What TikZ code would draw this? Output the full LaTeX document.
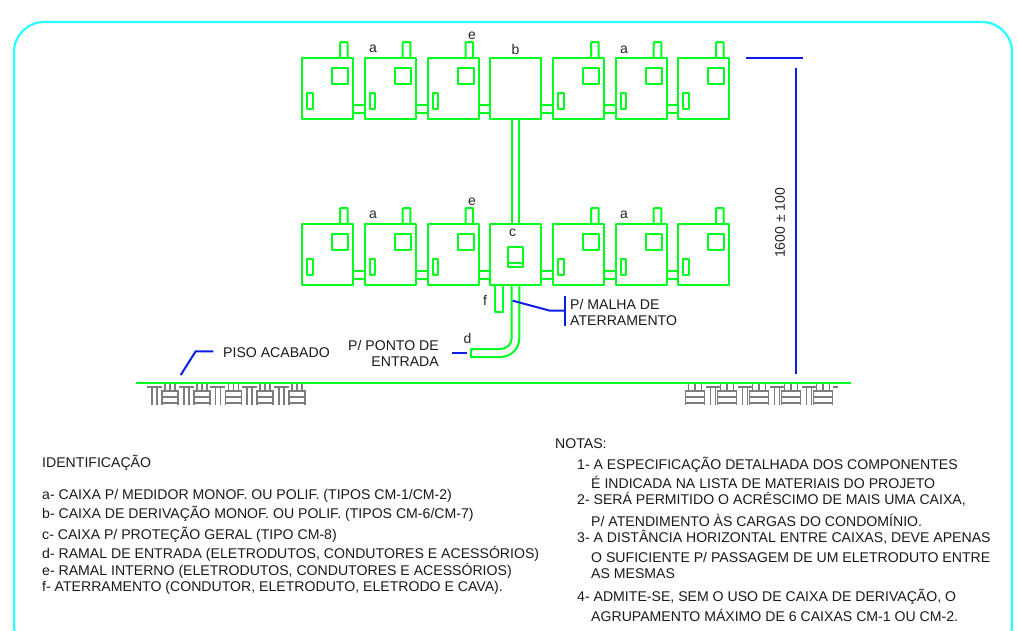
\documentclass[tikz,border=0pt]{standalone}
\usepackage{fontspec}
\setmainfont{Liberation Sans}
\definecolor{gr}{RGB}{0,255,30}
\definecolor{bl}{RGB}{10,30,230}
\definecolor{cy}{RGB}{40,255,255}
\definecolor{hg}{RGB}{125,125,125}
\tikzset{
  gline/.style={draw=gr,line width=2pt,line join=round},
  bline/.style={draw=bl,line width=2pt},
  hatchl/.style={draw=hg,line width=1.7pt},
  lbl/.style={font=\fontsize{14}{16}\selectfont,text=black!85,inner sep=0pt},
  note/.style={font=\fontsize{14.1}{16}\selectfont,text=black!90,anchor=west,inner sep=0pt,yshift=-1pt},
}
% #1 x, #2 y: plain box body
\newcommand{\cxbody}[2]{\draw[gline] (#1,#2) rectangle ++(51,61);}
\newcommand{\cxfull}[2]{%
  \cxbody{#1}{#2}
  \draw[gline] (#1+30,#2+10) rectangle ++(16,16);
  \draw[gline] (#1+5,#2+35) rectangle ++(5.7,16);
  \draw[gline] (#1+38,#2) -- (#1+38,#2-15) -- (#1+39,#2-16) -- (#1+45,#2-16) -- (#1+45.7,#2-15) -- (#1+45.7,#2);
}
\newcommand{\cxlink}[2]{%
  \draw[gline] (#1+51,#2+47.3) -- ++(11.7,0);
  \draw[gline] (#1+51,#2+55.3) -- ++(11.7,0);
}
\newcommand{\hatchblock}[2]{% #1 left of block, #2 width
  \draw[hatchl] (#1+3,383) -- (#1+3,390);
  \draw[hatchl] (#1+#2/2,383) -- (#1+#2/2,390);
  \draw[hatchl] (#1+#2-3,383) -- (#1+#2-3,390);
  \draw[hatchl] (#1,390) -- (#1,405);
  \draw[hatchl] (#1+#2,390) -- (#1+#2,405);
  \draw[hatchl] (#1,391) -- ++(#2,0);
  \draw[hatchl] (#1,397) -- ++(#2,0);
  \draw[hatchl] (#1,403) -- ++(#2,0);
}
\newcommand{\hatchpair}[1]{% #1 left one of two posts, with their top piece
  \draw[hatchl] (#1,387) -- (#1,405);
  \draw[hatchl] (#1+5,387) -- (#1+5,405);
  \draw[hatchl] (#1-5,387) -- (#1+10,387);
}
\begin{document}
\begin{tikzpicture}[x=1pt,y=-1pt]
\useasboundingbox (0,0) rectangle (1018,630);
\clip (0,0) rectangle (1018,630);
\draw[draw=cy,line width=2.2pt,rounded corners=30pt] (14,22) rectangle (1012,655);
\foreach \y in {58,224}{
  \foreach \x in {302,364.7,427.5,553,615.6,678}{\cxfull{\x}{\y}}
  \foreach \x in {302,364.7,427.5,490,553,615.6}{\cxlink{\x}{\y}}
  \cxbody{490}{\y}
}
% box c window
\draw[gline] (508,247.3) rectangle (523.3,266.7);
\draw[gline] (508,263.3) -- (523.3,263.3);
% riser between b and c
\draw[gline] (512,119) -- (512,224);
\draw[gline] (519.3,119) -- (519.3,224);
% ground stub f
\draw[gline] (495.3,285) -- (495.3,312) -- (503,312) -- (503,285);
% entry conduit
\draw[gline] (511.7,285) -- (511.7,338) .. controls (511.7,345) and (506,349) .. (500,349) -- (471,349) -- (471,357) -- (500,357) .. controls (511,357) and (519.3,349) .. (519.3,338) -- (519.3,285);
% floor hatch
\foreach \i in {0,1,2,3,4}{
  \hatchpair{152+31.7*\i}
  \hatchblock{162+31.7*\i}{16}
  \hatchblock{685.5+32*\i}{19}
}
\foreach \i in {0,1,2,3}{\hatchpair{710.5+32*\i}}
\draw[hatchl] (833,387) -- (838,387);
\draw[gline] (136,383) -- (851,383);
% blue leaders
\draw[bline] (746,58) -- (803,58);
\draw[bline] (796,68) -- (796,374);
\draw[bline] (512.7,300.7) -- (550,310.7) -- (565.3,310.7);
\draw[bline] (565.3,295.7) -- (565.3,326);
\draw[bline] (452,353.3) -- (466.7,353.3);
\draw[bline] (180.7,375) -- (195.7,351.3) -- (213.3,351.3);
% labels
\node[lbl] (la1) at (373,49) {a};
\node[lbl] (le1) at (472,36) {e};
\node[lbl] (lb) at (515.5,49) {b};
\node[lbl] (la2) at (624,50) {a};
\node[lbl] (la3) at (373,215) {a};
\node[lbl] (le2) at (472,202) {e};
\node[lbl] (lc) at (512.5,233) {c};
\node[lbl] (la4) at (624,215) {a};
\node[lbl] (lf) at (485,300) {f};
\node[lbl] (ld) at (467.5,338) {d};
\node[lbl,rotate=90] (dim) at (780,223) {1600 ± 100};
\node[note] (malha1) at (570,303) {P/ MALHA DE};
\node[note] (malha2) at (570,320) {ATERRAMENTO};
\node[note,anchor=east] (ponto1) at (439,344) {P/ PONTO DE};
\node[note,anchor=east] (ponto2) at (439,361) {ENTRADA};
\node[note] (piso) at (223,352) {PISO ACABADO};
\node[note] (id) at (42,462) {IDENTIFICAÇÃO};
\node[note] (ia) at (42,495) {a- CAIXA P/ MEDIDOR MONOF. OU POLIF. (TIPOS CM-1/CM-2)};
\node[note] (ib) at (42,513) {b- CAIXA DE DERIVAÇÃO MONOF. OU POLIF. (TIPOS CM-6/CM-7)};
\node[note] (ic) at (42,534) {c- CAIXA P/ PROTEÇÃO GERAL (TIPO CM-8)};
\node[note] (idd) at (42,553) {d- RAMAL DE ENTRADA (ELETRODUTOS, CONDUTORES E ACESSÓRIOS)};
\node[note] (ie) at (42,570) {e- RAMAL INTERNO (ELETRODUTOS, CONDUTORES E ACESSÓRIOS)};
\node[note] (if) at (42,587) {f- ATERRAMENTO (CONDUTOR, ELETRODUTO, ELETRODO E CAVA).};
\node[note] (nt) at (555,443) {NOTAS:};
\node[note] (n1) at (577,464) {1- A ESPECIFICAÇÃO DETALHADA DOS COMPONENTES};
\node[note] (n1b) at (591,481) {É INDICADA NA LISTA DE MATERIAIS DO PROJETO};
\node[note] (n2) at (577,498) {2- SERÁ PERMITIDO O ACRÉSCIMO DE MAIS UMA CAIXA,};
\node[note] (n2b) at (591,519) {P/ ATENDIMENTO ÀS CARGAS DO CONDOMÍNIO.};
\node[note] (n3) at (577,536) {3- A DISTÂNCIA HORIZONTAL ENTRE CAIXAS, DEVE APENAS};
\node[note] (n3b) at (591,556) {O SUFICIENTE P/ PASSAGEM DE UM ELETRODUTO ENTRE};
\node[note] (n3c) at (591,573) {AS MESMAS};
\node[note] (n4) at (577,596) {4- ADMITE-SE, SEM O USO DE CAIXA DE DERIVAÇÃO, O};
\node[note] (n4b) at (591,614) {AGRUPAMENTO MÁXIMO DE 6 CAIXAS CM-1 OU CM-2.};
\end{tikzpicture}
\end{document}
